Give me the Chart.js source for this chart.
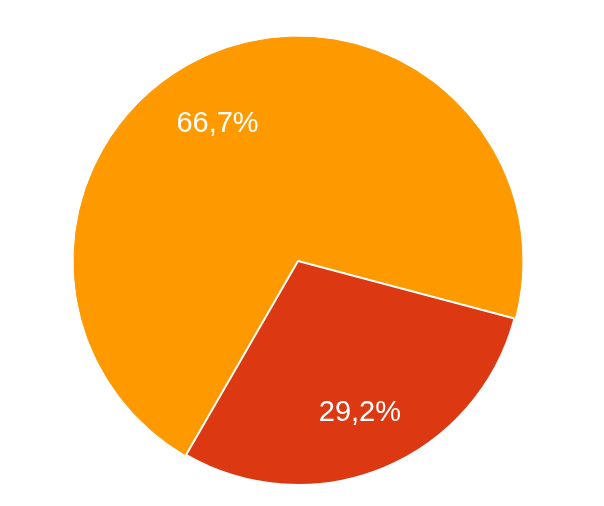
<!DOCTYPE html>
<html>
<head>
<meta charset="utf-8">
<script src="https://cdn.jsdelivr.net/npm/chart.js@4.4.1/dist/chart.umd.min.js"></script>
<style>
  html, body { margin: 0; padding: 0; background: #ffffff; }
  #wrap { width: 604px; height: 506px; }
</style>
</head>
<body>
<div id="wrap"><canvas id="c" width="604" height="506"></canvas></div>
<script>
// Data
const categories = ["A", "B", "C"];
const values = [66.7, 4.1, 29.2];
const valueLabels = ["66,7%", "", "29,2%"];
const colors = ["#FF9900", "#FF9900", "#DC3912"];

const labelPlugin = {
  id: 'sliceLabels',
  afterDatasetsDraw(chart) {
    const ctx = chart.ctx;
    const meta = chart.getDatasetMeta(0);
    ctx.save();
    ctx.fillStyle = '#ffffff';
    ctx.font = '29px "Liberation Sans", Arial, sans-serif';
    ctx.textAlign = 'center';
    ctx.textBaseline = 'middle';
    meta.data.forEach((arc, i) => {
      const txt = valueLabels[i];
      if (!txt) return;
      const p = arc.getProps(['x', 'y', 'startAngle', 'endAngle', 'outerRadius'], true);
      const mid = (p.startAngle + p.endAngle) / 2;
      const r = p.outerRadius * 0.72;
      ctx.fillText(txt, p.x + Math.cos(mid) * r, p.y + Math.sin(mid) * r + 3);
    });
    ctx.restore();
  }
};

new Chart(document.getElementById('c'), {
  type: 'pie',
  data: {
    labels: categories,
    datasets: [{
      data: values,
      backgroundColor: colors,
      borderColor: ["#FF9900", "#FF9900", "#ffffff"],
      borderWidth: [1, 1, 2]
    }]
  },
  options: {
    responsive: false,
    animation: false,
    rotation: 210,
    radius: 224,
    layout: { padding: { left: 74, right: 82, top: 37, bottom: 21 } },
    plugins: {
      legend: { display: false },
      tooltip: { enabled: false }
    }
  },
  plugins: [labelPlugin]
});
</script>
</body>
</html>
